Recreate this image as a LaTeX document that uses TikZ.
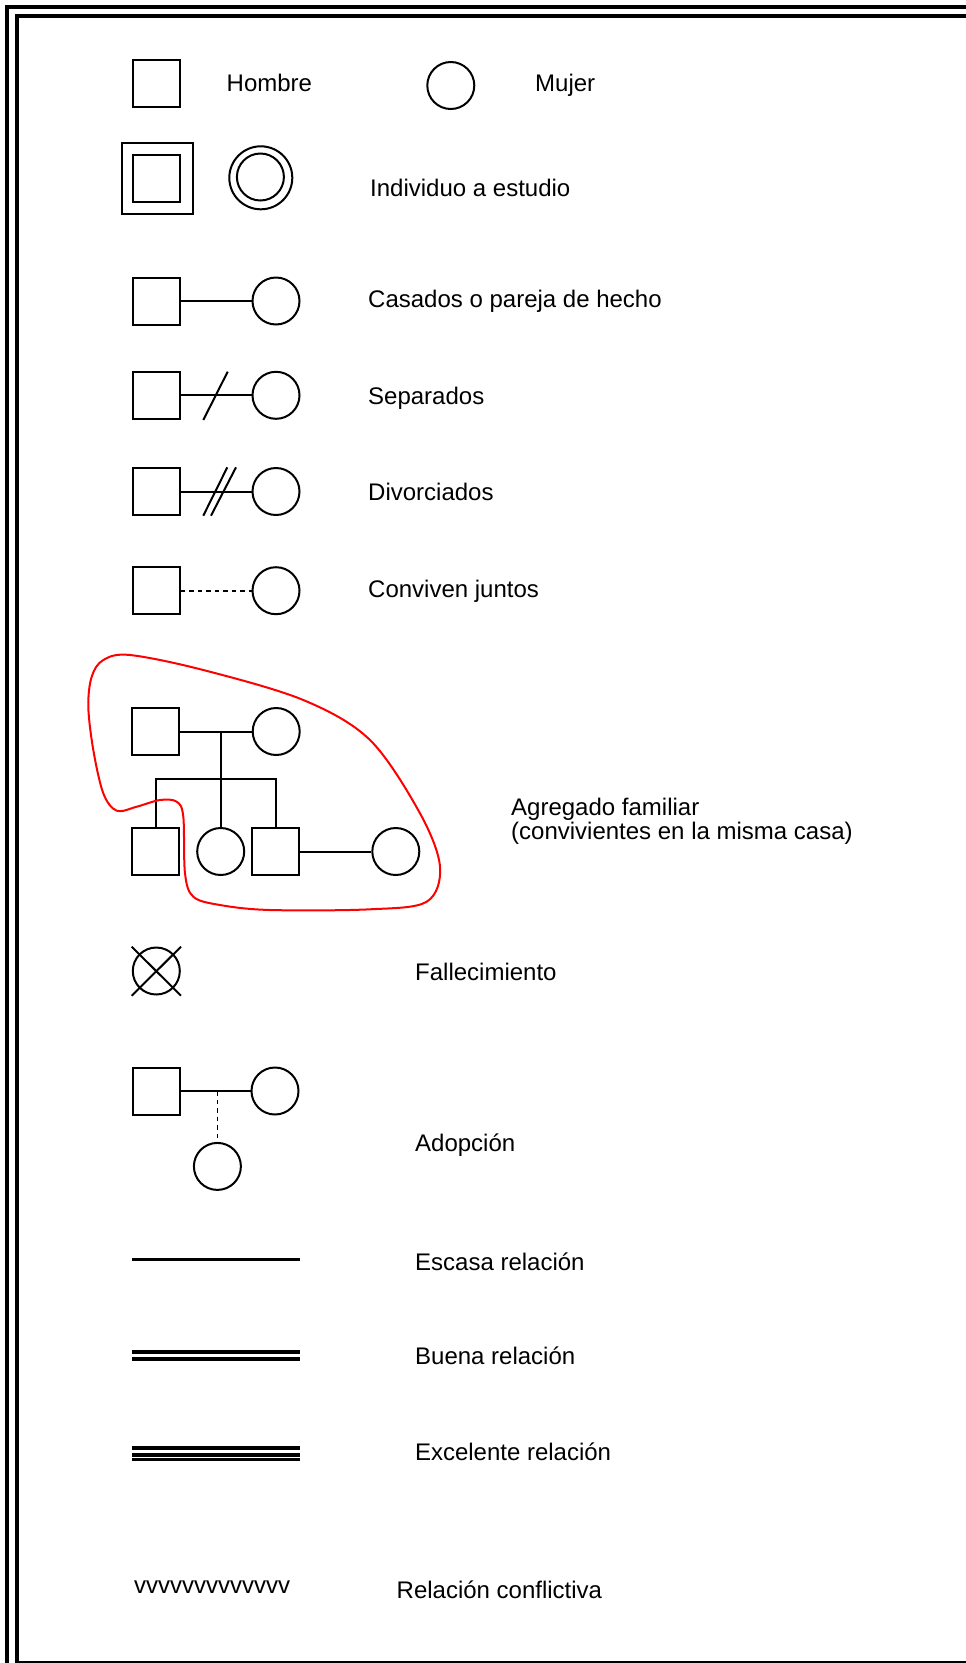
\documentclass[tikz,border=0pt]{standalone}
\usepackage{fontspec}
\setmainfont{Liberation Sans}
\begin{document}
\begin{tikzpicture}[x=1pt,y=-1pt,
  sq/.style={draw, rectangle, minimum size=47pt, inner sep=0pt, line width=2pt},
  ci/.style={draw, circle, minimum size=47pt, inner sep=0pt, line width=2pt},
  lnk/.style={line width=2pt},
  dsh/.style={line width=1.6pt, dash pattern=on 4.5pt off 4pt},
  lbl/.style={anchor=base west, inner sep=0pt, font=\fontsize{24}{28}\selectfont}]
\useasboundingbox (0,0) rectangle (966,1663);
\clip (0,0) rectangle (966,1663);

% double frame
\draw[line width=4pt] (7,7) rectangle (990,1690);
\draw[line width=4pt] (17,16) rectangle (967.5,1663);

% Hombre / Mujer
\node[sq] (hom) at (156,83.4) {};
\node[lbl] (thom) at (226.5,91.7) {Hombre};
\node[ci] (muj) at (450.8,85.5) {};
\node[lbl] (tmuj) at (535,91.7) {Mujer};

% Individuo a estudio
\node[draw, rectangle, minimum size=71pt, inner sep=0pt, line width=2pt] (pqo) at (157,178.3) {};
\node[sq] (pqi) at (156.2,178.8) {};
\node[draw, circle, minimum size=63pt, inner sep=0pt, line width=2pt] (pco) at (260.8,177.8) {};
\node[ci] (pci) at (260.4,177) {};
\node[lbl] (tind) at (370,196) {Individuo a estudio};

% Casados
\node[sq] (cas1) at (156,301) {};
\node[ci] (cas2) at (276,301) {};
\draw[lnk] (cas1) -- (cas2);
\node[lbl] (tcas) at (368,307) {Casados o pareja de hecho};

% Separados
\node[sq] (sep1) at (156,395.3) {};
\node[ci] (sep2) at (276,395.3) {};
\draw[lnk] (sep1) -- (sep2);
\draw[lnk] (203.3,420) -- (227.7,371.7);
\node[lbl] (tsep) at (368,404) {Separados};

% Divorciados
\node[sq] (div1) at (156,491.5) {};
\node[ci] (div2) at (276,491.5) {};
\draw[lnk] (div1) -- (div2);
\draw[lnk] (203.3,515.7) -- (227.3,467.3);
\draw[lnk] (211,515.7) -- (236,467.3);
\node[lbl] (tdiv) at (368,500) {Divorciados};

% Conviven juntos
\node[sq] (con1) at (156,590.7) {};
\node[ci] (con2) at (276,590.7) {};
\draw[dsh] (con1) -- (con2);
\node[lbl] (tcon) at (368,597.6) {Conviven juntos};

% Agregado familiar
\node[sq] (af) at (155.8,731.5) {};
\node[ci] (am) at (276.2,731.5) {};
\draw[lnk] (af) -- (am);
\node[sq] (ah1) at (155.8,851.5) {};
\node[ci] (ah2) at (220.7,851.5) {};
\node[sq] (ah3) at (275.8,851.5) {};
\node[ci] (ahs) at (395.8,851.5) {};
\draw[lnk] (ah3) -- (ahs);
\coordinate (amid) at (220.7,731.5);
\coordinate (sibl) at (155.8,779.3);
\coordinate (sibr) at (275.8,779.3);
\draw[lnk] (amid) -- (ah2.north);
\draw[lnk] (ah1.north) -- (sibl) -- (sibr) -- (ah3.north);
\draw[red, line width=2pt] plot[smooth cycle, tension=0.55] coordinates {
  (130,655) (203.3,670) (303.3,700) (370,740) (420,813.3) (440,866.7)
  (426.7,901.7) (370,909.3) (270,910) (220,905) (193.3,896.7) (185,873.3)
  (183.3,816.7) (176.7,801.7) (160,800) (136.7,806.7) (116.7,810.7)
  (103.3,793.3) (93.3,750) (88.3,706.7) (91.7,676.7) (103.3,660)};
\node[lbl] (tagr1) at (511,815) {Agregado familiar};
\node[lbl] (tagr2) at (511,839.3) {(convivientes en la misma casa)};

% Fallecimiento
\node[ci] (fal) at (156.3,971) {};
\draw[lnk] (131.7,946.7) -- (181,995.7);
\draw[lnk] (181,946.7) -- (131.7,995.7);
\node[lbl] (tfal) at (415,980) {Fallecimiento};

% Adopcion
\node[sq] (ad1) at (156.4,1091) {};
\node[ci] (ad2) at (275,1091) {};
\draw[lnk] (ad1) -- (ad2);
\node[ci] (adh) at (217.4,1166.4) {};
\coordinate (admid) at (217.4,1091);
\draw[dsh] (admid) -- (adh.north);
\node[lbl] (tado) at (415,1151) {Adopción};

% relation lines
\coordinate (r1a) at (132,1259.5);  \coordinate (r1b) at (300,1259.5);
\draw[line width=2.4pt] (r1a) -- (r1b);
\node[lbl] (tesc) at (415,1270) {Escasa relación};

\coordinate (r2a) at (132,1352.2);  \coordinate (r2b) at (300,1352.2);
\coordinate (r2c) at (132,1359.2);  \coordinate (r2d) at (300,1359.2);
\draw[line width=3.7pt] (r2a) -- (r2b);
\draw[line width=3.7pt] (r2c) -- (r2d);
\node[lbl] (tbue) at (415,1364) {Buena relación};

\coordinate (r3a) at (132,1448);    \coordinate (r3b) at (300,1448);
\coordinate (r3c) at (132,1454.7);  \coordinate (r3d) at (300,1454.7);
\coordinate (r3e) at (132,1459.5);  \coordinate (r3f) at (300,1459.5);
\draw[line width=4pt] (r3a) -- (r3b);
\draw[line width=4pt] (r3c) -- (r3d);
\draw[line width=2.4pt] (r3e) -- (r3f);
\node[lbl] (texc) at (414.8,1460) {Excelente relación};

\node[lbl] (tvvv) at (134,1593.3) {vvvvvvvvvvvvv};
\node[lbl] (tconf) at (396.5,1598.3) {Relación conflictiva};
\end{tikzpicture}
\end{document}
